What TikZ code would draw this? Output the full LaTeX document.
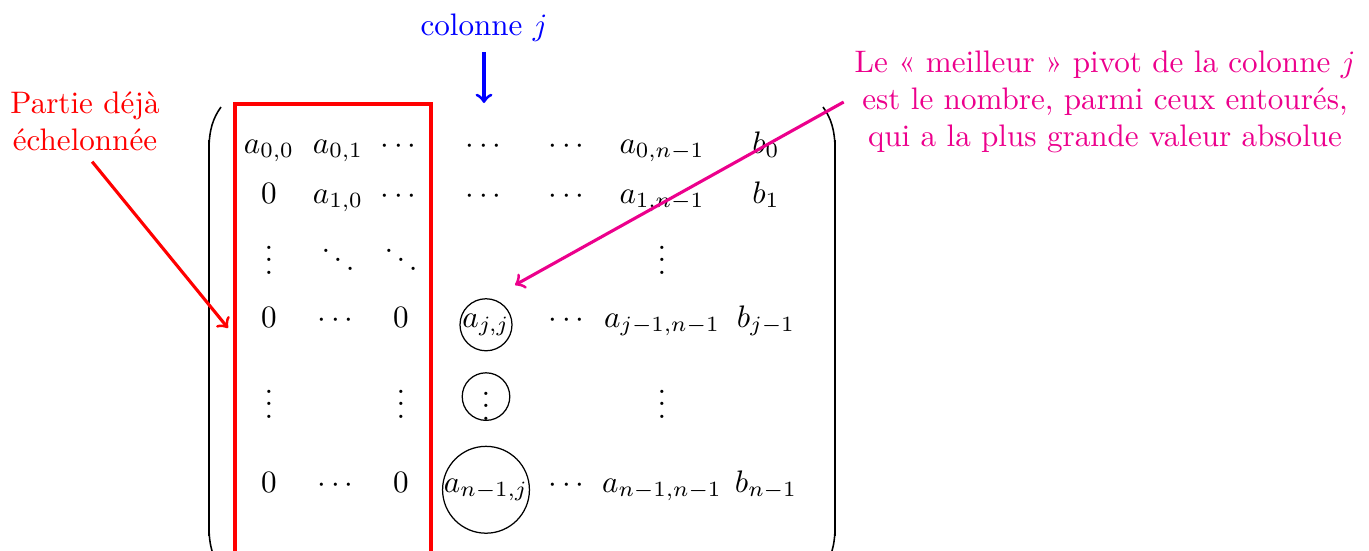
\documentclass[tikz,border=0pt]{standalone}
\usepackage{amsmath}
\definecolor{pivotpink}{RGB}{236,0,140}
\begin{document}
\begin{tikzpicture}[x=0.3215pt, y=-0.3215pt,
  cell/.style={anchor=base, inner sep=0pt},
  circ/.style={draw, circle, inner sep=0pt, anchor=base, line width=0.4pt},
  arr/.style={->, line width=1pt},
  paren/.style={line width=0.5pt},
  parenmid/.style={line width=0.95pt}]
\useasboundingbox (0,0) rectangle (1369,550);
\clip (0,0) rectangle (1369,550);

% row 1
\node[cell] (m11) at (269,153) {$a_{0,0}$};
\node[cell] (m12) at (338,153) {$a_{0,1}$};
\node[cell] (m13) at (401,153) {$\cdots$};
\node[cell] (m14) at (486,153) {$\cdots$};
\node[cell] (m15) at (569,153) {$\cdots$};
\node[cell] (m16) at (662,153) {$a_{0,n-1}$};
\node[cell] (m17) at (766,153) {$b_0$};
% row 2
\node[cell] (m21) at (269,203) {$0$};
\node[cell] (m22) at (338,203) {$a_{1,0}$};
\node[cell] (m23) at (401,203) {$\cdots$};
\node[cell] (m24) at (486,203) {$\cdots$};
\node[cell] (m25) at (569,203) {$\cdots$};
\node[cell] (m26) at (662,203) {$a_{1,n-1}$};
\node[cell] (m27) at (766,203) {$b_1$};
% row 3
\node[cell] (m31) at (269,274) {$\vdots$};
\node[cell] (m32) at (338,274) {$\ddots$};
\node[cell] (m33) at (401,274) {$\ddots$};
\node[cell] (m36) at (662,274) {$\vdots$};
% row 4
\node[cell] (m41) at (269,327) {$0$};
\node[cell] (m42) at (338,327) {$\cdots$};
\node[cell] (m43) at (401,327) {$0$};
\node[circ] (m44) at (486,327) {$a_{j,j}$};
\node[cell] (m45) at (569,327) {$\cdots$};
\node[cell] (m46) at (662,327) {$a_{j-1,n-1}$};
\node[cell] (m47) at (766,327) {$b_{j-1}$};
% row 5
\node[cell] (m51) at (269,418) {$\vdots$};
\node[cell] (m53) at (401,418) {$\vdots$};
\node[circ] (m54) at (486,420) {$\vdots$};
\node[cell] (m56) at (662,418) {$\vdots$};
% row 6
\node[cell] (m61) at (269,492) {$0$};
\node[cell] (m62) at (338,492) {$\cdots$};
\node[cell] (m63) at (401,492) {$0$};
\node[circ] (m64) at (486,492) {$a_{n-1,j}$};
\node[cell] (m65) at (569,492) {$\cdots$};
\node[cell] (m66) at (662,492) {$a_{n-1,n-1}$};
\node[cell] (m67) at (766,492) {$b_{n-1}$};

% parentheses
\draw[paren] (221,107) .. controls (213,118) and (209,130) .. (209,150) -- (209,526) .. controls (209,546) and (213,558) .. (221,569);
\draw[parenmid] (209,140) -- (209,536);
\draw[paren] (823,107) .. controls (831,118) and (835,130) .. (835,150) -- (835,526) .. controls (835,546) and (831,558) .. (823,569);
\draw[parenmid] (835,140) -- (835,536);

% already reduced part
\draw[red, line width=1pt] (235,104) rectangle (431,600);

% labels
\node[red, align=center] (partie) at (85,121) {Partie déjà\\échelonnée};
\node[blue, anchor=base] (colonne) at (484,35) {colonne $j$};
\node[pivotpink, align=center] (pivot) at (1105,102) {Le « meilleur » pivot de la colonne $j$\\est le nombre, parmi ceux entourés,\\qui a la plus grande valeur absolue};

\coordinate (redtip) at (228,328);
\coordinate (bluetip) at (484,103);
\coordinate (pinktip) at (515,285);

\draw[arr, red] (partie.-80) -- (redtip);
\draw[arr, blue] (colonne.south) -- (bluetip);
\draw[arr, pivotpink] (pivot.west) -- (pinktip);
\end{tikzpicture}
\end{document}
